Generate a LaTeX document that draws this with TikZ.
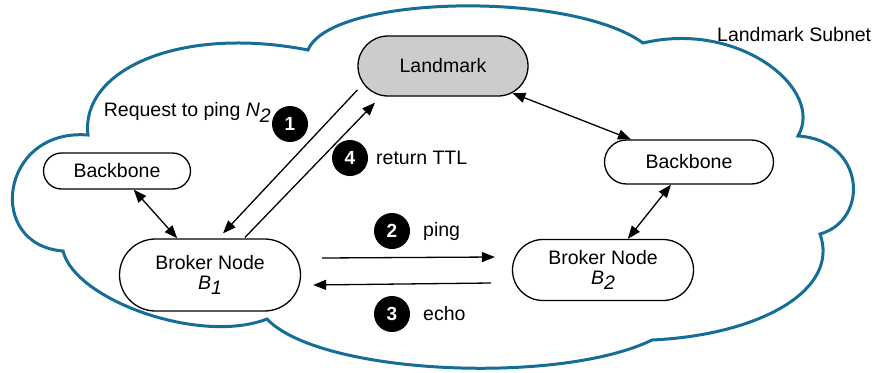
\documentclass[tikz,border=0pt]{standalone}
\usepackage{fontspec}
\setmainfont{Liberation Sans}
\usetikzlibrary{arrows.meta,shapes.misc,calc}
\definecolor{subnetblue}{RGB}{22,110,152}
\definecolor{lmgray}{RGB}{204,204,204}
\tikzset{
  every node/.style={font=\fontsize{19.5pt}{22pt}\selectfont},
  pill/.style={rounded rectangle, draw=black, line width=1.3pt, inner sep=0pt},
  link/.style={line width=1.3pt, draw=black},
  tip/.style={-{Triangle[length=13pt,width=10pt]}},
  dtip/.style={{Triangle[length=13pt,width=10pt]}-{Triangle[length=13pt,width=10pt]}},
  stepnum/.style={circle, fill=black, text=white, inner sep=0pt, minimum size=36pt,
    font=\fontsize{19pt}{22pt}\selectfont\bfseries},
  caption/.style={anchor=west, inner sep=0pt},
}
\begin{document}
\begin{tikzpicture}[x=1pt,y=-1pt]
\useasboundingbox (0,0) rectangle (880,372);

% subnet cloud
\draw[subnetblue, line width=3pt, line join=miter, fill=white]
  (308,50) .. controls (180,25) and (80,70) .. (88,135)
  .. controls (0,128) and (-15,245) .. (63,251)
  .. controls (75,300) and (200,345) .. (267,319)
  .. controls (320,375) and (560,385) .. (652,340)
  .. controls (760,335) and (840,290) .. (820,234)
  .. controls (870,220) and (865,140) .. (798,136)
  .. controls (825,90) and (740,20) .. (643,43)
  .. controls (570,-10) and (330,-5) .. cycle;

\node[caption] (subnet) at (717,35) {Landmark Subnet};

% nodes
\node[pill, fill=lmgray, minimum width=170pt, minimum height=60pt] (lm) at (443,66) {Landmark};
\node[pill, minimum width=147pt, minimum height=36pt] (bbl) at (117,171) {Backbone};
\node[pill, minimum width=169pt, minimum height=44pt] (bbr) at (689,162) {Backbone};
\node[pill, minimum width=181pt, minimum height=72pt, align=center] (b1) at (210,275)
  {Broker Node\\[-2pt]\itshape B\raisebox{-5pt}{\fontsize{19.5pt}{22pt}\selectfont 1}};
\node[pill, minimum width=181pt, minimum height=61pt, align=center] (b2) at (603,270)
  {Broker Node\\[-2pt]\itshape B\raisebox{-5pt}{\fontsize{19.5pt}{22pt}\selectfont 2}};

% backbone links
\draw[link, dtip] (bbl) -- (b1);
\draw[link, dtip] (lm) -- (bbr);
\draw[link, dtip] (bbr) -- (b2);

% request / return between landmark and B1
\draw[link, tip] ($(lm.west)+(0,24)$) -- ($(b1.north)+(13,-5)$);
\draw[link, tip] ($(b1.north)+(35,-1)$) -- ($(lm.south)+(-68,6)$);

% ping / echo between brokers
\draw[link, tip] ($(b1.east)+(21,-17)$) -- ($(b2.west)+(-17,-13)$);
\draw[link, tip] ($(b2.west)+(-21,13)$) -- ($(b1.east)+(12,10)$);

% step markers and captions
\node[stepnum] (s1) at (290,124) {1};
\node[caption, anchor=east] (req) at (271,112) {Request to ping \itshape N\raisebox{-6pt}{2}};
\node[stepnum] (s4) at (350,158) {4};
\node[caption] (ret) at (376,158) {return TTL};
\node[stepnum] (s2) at (392,231) {2};
\node[caption] (ping) at (423,231) {ping};
\node[stepnum] (s3) at (392,314) {3};
\node[caption] (echo) at (423,314) {echo};
\end{tikzpicture}
\end{document}
